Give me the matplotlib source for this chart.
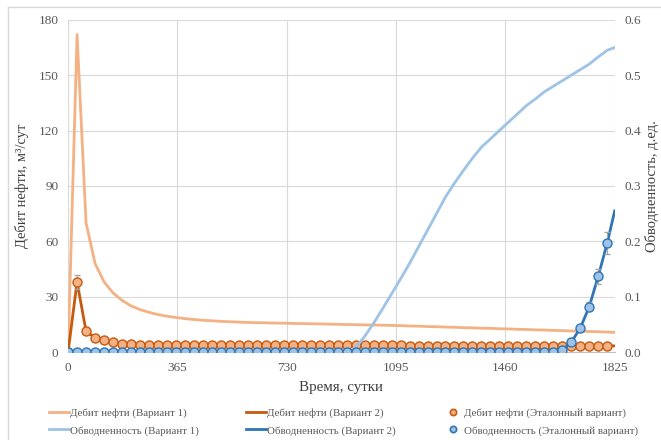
import matplotlib.pyplot as plt
from matplotlib.lines import Line2D

plt.rcParams['font.family'] = ['Liberation Serif', 'DejaVu Serif']

# time, days (every 30 days) + final point
t = list(range(0, 1801, 30))
t_end = 1825

oil_v1 = [0, 172, 70, 48, 38, 32, 28, 25, 23, 21.5, 20.3, 19.4, 18.7, 18.1, 17.6, 17.2,
          16.9, 16.6, 16.4, 16.2, 16.0, 15.9, 15.8, 15.7, 15.6, 15.5, 15.4, 15.3, 15.2, 15.1,
          15.0, 14.9, 14.8, 14.7, 14.6, 14.5, 14.4, 14.3, 14.1, 14.0, 13.8, 13.7, 13.5, 13.4,
          13.2, 13.1, 12.9, 12.8, 12.6, 12.5, 12.3, 12.2, 12.0, 11.9, 11.7, 11.6, 11.4, 11.3,
          11.1, 11.0, 10.8]
oil_v1_end = 10.6

oil_ref = [0, 38, 11.2, 7.8, 6.5, 5.2, 4.6, 4.2, 4.0, 4.0, 3.9, 3.9, 3.9, 3.8, 3.8, 3.8,
           3.8, 3.8, 3.7, 3.7, 3.7, 3.7, 3.7, 3.7, 3.7, 3.6, 3.6, 3.6, 3.6, 3.6, 3.6, 3.6,
           3.6, 3.6, 3.6, 3.6, 3.6, 3.6, 3.5, 3.5, 3.5, 3.5, 3.5, 3.5, 3.5, 3.5, 3.5, 3.5,
           3.5, 3.5, 3.5, 3.5, 3.5, 3.4, 3.4, 3.4, 3.4, 3.4, 3.4, 3.4, 3.4]
oil_v2_end = 3.3

wc_v1 = [0] * 32 + [0.008, 0.028, 0.052, 0.078, 0.105, 0.132, 0.16, 0.19, 0.22, 0.25,
                    0.28, 0.305, 0.328, 0.35, 0.37, 0.385, 0.40, 0.415, 0.43, 0.445, 0.457,
                    0.47, 0.48, 0.49, 0.50, 0.51, 0.52, 0.533, 0.545]
wc_v1_end = 0.55

wc_ref = [0] * 55 + [0.003, 0.018, 0.043, 0.082, 0.137, 0.197]
wc_v2_end = 0.255

c_oil1, c_oil2 = '#F4B183', '#C55A11'
c_wc1, c_wc2 = '#9DC3E6', '#2E75B6'
txt = '#595959'

fig = plt.figure(figsize=(6.61, 4.40), dpi=100)
ax = fig.add_axes([0.103, 0.2, 0.827, 0.755])
ax2 = ax.twinx()

ax.plot(t + [t_end], oil_v1 + [oil_v1_end], color=c_oil1, lw=2, zorder=2)
ax.plot(t + [t_end], oil_ref + [oil_v2_end], color=c_oil2, lw=2, zorder=3)
ax.errorbar(t, oil_ref, yerr=[v * 0.1 for v in oil_ref], fmt='o', ms=6.5, mfc=c_oil1, mec=c_oil2,
            mew=1, ecolor='#A6A6A6', elinewidth=0.8, capsize=2, zorder=4)
ax2.plot(t + [t_end], wc_v1 + [wc_v1_end], color=c_wc1, lw=2, zorder=2)
ax2.plot(t + [t_end], wc_ref + [wc_v2_end], color=c_wc2, lw=2, zorder=3)
ax2.errorbar(t, wc_ref, yerr=[v * 0.1 for v in wc_ref], fmt='o', ms=6.5, mfc=c_wc1, mec=c_wc2,
             mew=1, ecolor='#A6A6A6', elinewidth=0.8, capsize=2, zorder=4)

ax.set_xlim(0, 1825)
ax.set_ylim(0, 180)
ax2.set_ylim(0, 0.6)
ax.set_xticks([0, 365, 730, 1095, 1460, 1825])
ax.set_yticks(range(0, 181, 30))
ax2.set_yticks([0, 0.1, 0.2, 0.3, 0.4, 0.5, 0.6])
ax2.set_yticklabels(['0.0', '0.1', '0.2', '0.3', '0.4', '0.5', '0.6'])
ax.grid(True, color='#D9D9D9', lw=0.8)
ax.set_axisbelow(True)
for a in (ax, ax2):
    for s in a.spines.values():
        s.set_visible(False)
    a.tick_params(length=0, labelsize=9.5, colors=txt, pad=7)
ax.spines['bottom'].set_visible(True)
ax.spines['bottom'].set_color('#BFBFBF')

ax.set_xlabel('Время, сутки', fontsize=10.8, color='#404040', labelpad=5)
ax.set_ylabel('Дебит нефти, м³/сут', fontsize=10.5, color='#404040', labelpad=7)
ax2.set_ylabel('Обводненность, д.ед.', fontsize=10.5, color='#404040', labelpad=3)

handles = [
    Line2D([], [], color=c_oil1, lw=2),
    Line2D([], [], color=c_wc1, lw=2),
    Line2D([], [], color=c_oil2, lw=2),
    Line2D([], [], color=c_wc2, lw=2),
    Line2D([], [], ls='none', marker='o', ms=4.5, mfc=c_oil1, mec=c_oil2, mew=1.2),
    Line2D([], [], ls='none', marker='o', ms=4.5, mfc=c_wc1, mec=c_wc2, mew=1.2),
]
labels = ['Дебит нефти (Вариант 1)', 'Обводненность (Вариант 1)',
          'Дебит нефти (Вариант 2)', 'Обводненность (Вариант 2)',
          'Дебит нефти (Эталонный вариант)', 'Обводненность (Эталонный вариант)']
leg = fig.legend(handles, labels, ncol=3, loc='lower center', bbox_to_anchor=(0.52, -0.012),
                 frameon=False, fontsize=7.8, handlelength=1.8, handletextpad=0.1,
                 columnspacing=4.4, labelspacing=0.75)
for tx in leg.get_texts():
    tx.set_color(txt)

fig.add_artist(Line2D([8 / 661, 8 / 661], [0, 1 - 7 / 440], transform=fig.transFigure, color='#D9D9D9', lw=1))
fig.add_artist(Line2D([8 / 661, 1], [1 - 7 / 440, 1 - 7 / 440], transform=fig.transFigure, color='#D9D9D9', lw=1))

fig.savefig('out.png', dpi=100)
